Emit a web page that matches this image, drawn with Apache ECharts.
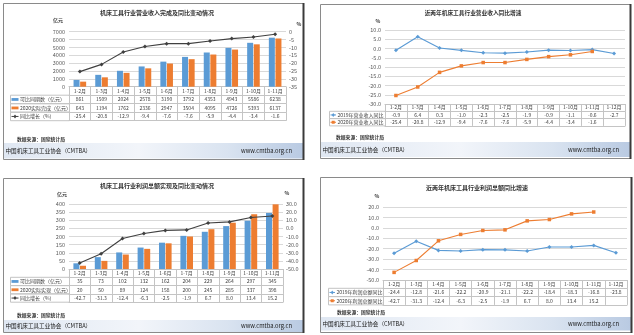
<!DOCTYPE html>
<html><head><meta charset="utf-8">
<script src="https://cdn.jsdelivr.net/npm/echarts@6/dist/echarts.min.js"></script>
<style>html,body{margin:0;padding:0;background:#fff;}#c{width:634px;height:335px;}</style>
</head><body><div id="c"></div>
<script>
// ---------------- DATA ----------------
const months10 = ['1-2月','1-3月','1-4月','1-5月','1-6月','1-7月','1-8月','1-9月','1-10月','1-11月'];
const months11 = ['1-2月','1-3月','1-4月','1-5月','1-6月','1-7月','1-8月','1-9月','1-10月','1-11月','1-12月'];

// Panel 1: 营业收入
const revTitle = '机床工具行业营业收入完成及同比变动情况';
const revComparable = [861,1509,2024,2578,3190,3792,4353,4943,5586,6238];
const rev2020 = [643,1194,1762,2336,2947,3504,4095,4726,5393,6137];
const revYoY = [-25.4,-20.8,-12.9,-9.4,-7.6,-7.6,-5.9,-4.4,-3.4,-1.6];
const revRowNames = ['可比同期数（亿元）','2020实际完成（亿元）','同比增长（%）'];
const revLeftTicks = [0,1000,2000,3000,4000,5000,6000,7000];
const revRightTicks = [-35,-30,-25,-20,-15,-10,-5,0];

// Panel 2: 营业收入同比增速
const revGrowthTitle = '近两年机床工具行业营业收入同比增速';
const revGrowth2019 = [-0.9,6.4,0.3,-1.0,-2.3,-2.5,-1.9,-0.9,-1.1,-0.6,-2.7];
const revGrowth2020 = [-25.4,-20.8,-12.9,-9.4,-7.6,-7.6,-5.9,-4.4,-3.4,-1.6,null];
const revGrowthRowNames = ['2019年营业收入同比','2020年营业收入同比'];
const revGrowthTicks = [-30,-25,-20,-15,-10,-5,0,5,10];

// Panel 3: 利润总额
const profitTitle = '机床工具行业利润总额实现及同比变动情况';
const profitComparable = [35,73,102,132,162,204,229,264,297,345];
const profit2020 = [20,50,89,124,158,200,245,285,337,398];
const profitYoY = [-42.7,-31.3,-12.4,-6.3,-2.5,-1.9,6.7,8.0,13.4,15.2];
const profitRowNames = ['可比同期数（亿元）','2020实际实现（亿元）','同比增长（%）'];
const profitLeftTicks = [0,50,100,150,200,250,300,350,400];
const profitRightTicks = [-50,-40,-30,-20,-10,0,10,20,30];

// Panel 4: 利润总额同比增速
const profitGrowthTitle = '近两年机床工具行业利润总额同比增速';
const profitGrowth2019 = [-24.4,-12.8,-21.6,-22.2,-20.9,-21.1,-22.2,-18.4,-18.3,-16.8,-23.8];
const profitGrowth2020 = [-42.7,-31.3,-12.4,-6.3,-2.5,-1.9,6.7,8.0,13.4,15.2,null];
const profitGrowthRowNames = ['2019年利润总额同比','2020年利润总额同比'];
const profitGrowthTicks = [-50,-40,-30,-20,-10,0,10,20];

const sourceText = '数据来源：国家统计局';
const footerLeft = '中国机床工具工业协会（CMTBA）';
const footerRight = 'www.cmtba.org.cn';

// ---------------- STYLE ----------------
const FONT = '"Noto Sans CJK SC","Noto Sans",sans-serif';
const BLUE = '#5b9bd5', ORANGE = '#ed7d31', DARK = '#404040';
const GRIDC = '#d9d9d9', TABLEC = '#c4c4c4';

const option = {animation:false, backgroundColor:'#fff', grid:[], xAxis:[], yAxis:[], series:[], graphic:[]};

function txt(x, y, text, size, o) {
  o = o || {};
  const al = o.align || 'left';
  return {type:'text', x:x, y:y, silent:true, z:o.z||20,
    style:{text:text, font:(o.bold?'bold ':'')+size+'px '+FONT, fill:o.color||DARK,
      align:al, textAlign:al, verticalAlign:'middle', textVerticalAlign:'middle'}};
}
function fmtVal(v, dec) { return (v===null||v===undefined) ? '' : Number(v).toFixed(dec); }
function ticksAxis(t) { return {min:t[0], max:t[t.length-1], interval:t[1]-t[0]}; }

function addPanel(p) {
  const g = option.grid.length;
  option.grid.push({left:p.gl, top:p.gt, width:p.gw, height:p.gh, containLabel:false});
  const xMain = option.xAxis.length;
  const nRows = p.rows.length;
  const lm = p.rh/2 - 2.6;
  for (let r = 0; r <= nRows + 1; r++) {
    const last = r === nRows + 1;
    const ax = {
      type:'category', gridIndex:g, data:p.cats, position:'bottom', offset:r*p.rh,
      axisLine:{show:true, onZero:false, lineStyle:{color:TABLEC, width:1}},
      axisTick:{show:!last, length:p.rh, interval:0, lineStyle:{color:TABLEC}},
      axisLabel:{show:!last, interval:0, fontSize:5, color:DARK, margin:lm, fontFamily:FONT},
      splitLine:{show:false}
    };
    if (r > 0 && !last) {
      const row = p.rows[r-1];
      ax.axisLabel.formatter = function (v, i) { return fmtVal(row.data[i], row.dec); };
    }
    option.xAxis.push(ax);
  }
  const yL = option.yAxis.length;
  option.yAxis.push(Object.assign({type:'value', gridIndex:g, position:'left',
    axisLine:{show:false}, axisTick:{show:false},
    axisLabel:{fontSize:5.5, color:'#595959', margin:4, fontFamily:FONT,
      formatter:function(v){return p.lDec!=null? v.toFixed(p.lDec): String(v);}},
    splitLine:{show:true, lineStyle:{color:GRIDC, width:1}}}, ticksAxis(p.lTicks)));
  let yR = yL;
  if (p.rTicks) {
    yR = option.yAxis.length;
    option.yAxis.push(Object.assign({type:'value', gridIndex:g, position:'right',
      axisLine:{show:false}, axisTick:{show:false},
      axisLabel:{fontSize:5.5, color:'#595959', margin:3, fontFamily:FONT,
        formatter:function(v){return p.rDec!=null? v.toFixed(p.rDec): String(v);}},
      splitLine:{show:false}}, ticksAxis(p.rTicks)));
  }
  p.rows.forEach(function (row) {
    const s = {name:row.name, xAxisIndex:xMain, yAxisIndex: row.axis==='r'? yR : yL, data:row.data};
    if (row.kind === 'bar') {
      Object.assign(s, {type:'bar', barWidth:p.bw, barGap:'10%', itemStyle:{color:row.color}});
    } else {
      Object.assign(s, {type:'line', symbol:row.symbol, symbolSize:row.ss, showSymbol:true,
        lineStyle:{color:row.color, width:1.1}, itemStyle:{color:row.color}, connectNulls:false});
    }
    option.series.push(s);
  });

  const G = option.graphic;
  // panel box
  G.push({type:'rect', silent:true, z:1, shape:{x:p.box[0]+0.5, y:p.box[1]+0.5, width:p.box[2], height:p.box[3]},
    style:{fill:'none', stroke:'#8a8a8a', lineWidth:1}});
  G.push({type:'line', silent:true, z:30, shape:{x1:p.box[0]+p.box[2]+0.5, y1:p.box[1], x2:p.box[0]+p.box[2]+0.5, y2:p.box[1]+p.box[3]+1},
    style:{stroke:'#3a3a3a', lineWidth:2}});
  // footer band
  G.push({type:'rect', silent:true, z:2, shape:{x:p.box[0]+1, y:p.foot[0], width:p.box[2]-1, height:p.foot[1]},
    style:{fill:{type:'linear', x:0, y:0, x2:1, y2:0, colorStops:[
      {offset:0, color:'#dfe7f2'},{offset:0.45, color:'#f2f5fa'},{offset:0.75, color:'#d9e3f0'},{offset:1, color:'#b9cae2'}]}}});
  G.push(txt(p.box[0]+2.5, p.foot[0]+p.foot[1]/2, footerLeft, 5.6, {color:'#1a1a1a'}));
  G.push(txt(p.footRight, p.foot[0]+p.foot[1]/2, footerRight, 5.8, {color:'#1a1a1a', align:'right'}));
  // title, units, source
  G.push(txt(p.title[0], p.title[1], p.titleText, p.titleSize||6, {align:'center', bold:true, color:'#333'}));
  p.units.forEach(function(u){ G.push(txt(u[0], u[1], u[2], 5, {align:'center', bold:true, color:'#404040'})); });
  G.push(txt(p.src[0], p.src[1], sourceText, 4.8, {bold:true, color:'#333'}));
  // table left column
  const tableTop = p.gt + p.gh;
  p.rows.forEach(function (row, i) {
    const y0 = tableTop + (i+1)*p.rh;
    const cy = y0 + p.rh/2;
    G.push({type:'rect', silent:true, z:5, shape:{x:p.colLeft+0.5, y:y0, width:p.gl-p.colLeft, height:p.rh},
      style:{fill:'none', stroke:TABLEC, lineWidth:1}});
    const ix = p.colLeft + 1.5;
    if (row.kind === 'bar') {
      G.push({type:'rect', silent:true, z:6, shape:{x:ix, y:cy-1.4, width:p.iconW, height:2.8}, style:{fill:row.color}});
    } else {
      G.push({type:'line', silent:true, z:6, shape:{x1:ix, y1:cy, x2:ix+p.iconW, y2:cy}, style:{stroke:row.color, lineWidth:1}});
      if (row.symbol === 'rect') {
        G.push({type:'rect', silent:true, z:7, shape:{x:ix+p.iconW/2-1.5, y:cy-1.5, width:3, height:3}, style:{fill:row.color}});
      } else {
        G.push({type:'polygon', silent:true, z:7, shape:{points:[[ix+p.iconW/2,cy-2],[ix+p.iconW/2+1.5,cy],[ix+p.iconW/2,cy+2],[ix+p.iconW/2-1.5,cy]]}, style:{fill:row.color}});
      }
    }
    G.push(txt(ix + p.iconW + 1.5, cy, row.name, 5, {color:DARK}));
  });
}

addPanel({
  gl:69, gt:31.7, gw:217, gh:55, rh:8.5, colLeft:10, bw:6, iconW:7,
  cats:months10, lTicks:revLeftTicks, rTicks:revRightTicks, lDec:null, rDec:null,
  rows:[
    {name:revRowNames[0], kind:'bar', data:revComparable, dec:0, color:BLUE},
    {name:revRowNames[1], kind:'bar', data:rev2020, dec:0, color:ORANGE},
    {name:revRowNames[2], kind:'line', data:revYoY, dec:1, color:DARK, axis:'r', symbol:'diamond', ss:4}
  ],
  box:[3,3,300,156], foot:[143,15.5], footRight:292,
  title:[157,13], titleText:revTitle, units:[[58,20,'亿元'],[299,24,'%']], src:[17,139.5]
});
addPanel({
  gl:385, gt:30, gw:240, gh:74, rh:7.3, colLeft:329, bw:6, iconW:5.5,
  cats:months11, lTicks:revGrowthTicks, lDec:1,
  rows:[
    {name:revGrowthRowNames[0], kind:'line', data:revGrowth2019, dec:1, color:BLUE, symbol:'diamond', ss:4},
    {name:revGrowthRowNames[1], kind:'line', data:revGrowth2020, dec:1, color:ORANGE, symbol:'rect', ss:3.5}
  ],
  box:[320,4,310,154], foot:[142,15], footRight:619,
  title:[473,13], titleText:revGrowthTitle, titleSize:5.7, units:[[378,21,'%']], src:[336,137]
});
addPanel({
  gl:69, gt:204, gw:214, gh:65, rh:8.3, colLeft:10, bw:6, iconW:7,
  cats:months10, lTicks:profitLeftTicks, rTicks:profitRightTicks, lDec:null, rDec:1,
  rows:[
    {name:profitRowNames[0], kind:'bar', data:profitComparable, dec:0, color:BLUE},
    {name:profitRowNames[1], kind:'bar', data:profit2020, dec:0, color:ORANGE},
    {name:profitRowNames[2], kind:'line', data:profitYoY, dec:1, color:DARK, axis:'r', symbol:'diamond', ss:4}
  ],
  box:[3,178,300,154], foot:[320,12], footRight:292,
  title:[157,186], titleText:profitTitle, units:[[62,194,'亿元'],[287,193,'%']], src:[17,315]
});
addPanel({
  gl:383, gt:207, gw:244, gh:73, rh:8.3, colLeft:328, bw:6, iconW:5.5,
  cats:months11, lTicks:profitGrowthTicks, lDec:1,
  rows:[
    {name:profitGrowthRowNames[0], kind:'line', data:profitGrowth2019, dec:1, color:BLUE, symbol:'diamond', ss:4},
    {name:profitGrowthRowNames[1], kind:'line', data:profitGrowth2020, dec:1, color:ORANGE, symbol:'rect', ss:3.5}
  ],
  box:[320,177,311,155], foot:[317,13.5], footRight:619,
  title:[477,188], titleText:profitGrowthTitle, units:[[377,196,'%']], src:[337,312]
});

const chart = echarts.init(document.getElementById('c'), null, {renderer:'canvas'});
chart.setOption(option);
</script></body></html>
